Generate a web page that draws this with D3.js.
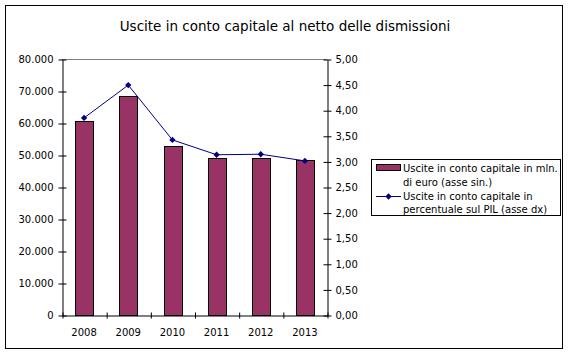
<!DOCTYPE html>
<html><head><meta charset="utf-8">
<script src="https://cdn.jsdelivr.net/npm/d3@7"></script>
<style>html,body{margin:0;padding:0;background:#fff}svg{display:block}text{font-family:"DejaVu Sans",Verdana,sans-serif}</style>
</head><body>
<svg id="c" width="570" height="355"></svg>
<script>
const years = ["2008","2009","2010","2011","2012","2013"];
const milioni = [60700, 68400, 52800, 49100, 49200, 48400];
const percentuale = [3.85, 4.49, 3.42, 3.13, 3.14, 3.01];
const leftTicks = [0,10000,20000,30000,40000,50000,60000,70000,80000];
const rightTicks = [0,0.5,1,1.5,2,2.5,3,3.5,4,4.5,5];
const title = "Uscite in conto capitale al netto delle dismissioni";
const legendBar = ["Uscite in conto capitale in mln.","di euro (asse sin.)"];
const legendLine = ["Uscite in conto capitale in","percentuale sul PIL (asse dx)"];

const loc = d3.formatLocale({decimal:",", thousands:".", grouping:[3], currency:["",""]});
const fL = loc.format(",d"), fR = loc.format(",.2f");
const svg = d3.select("#c");
svg.append("rect").attr("width",570).attr("height",355).attr("fill","#fff");
svg.append("rect").attr("x",5.5).attr("y",5.5).attr("width",557).attr("height",343)
  .attr("fill","none").attr("stroke","#000").attr("stroke-width",1);

svg.append("text").attr("x",285).attr("y",31).attr("text-anchor","middle")
  .attr("font-size",13.5).text(title);

const L=62, R=327, T=59, B=315;
const x = d3.scaleBand().domain(years).range([L,R]).paddingInner(0.6).paddingOuter(0.3);
const yL = d3.scaleLinear().domain([0,80000]).range([B,T]);
const yR = d3.scaleLinear().domain([0,5]).range([B,T]);

svg.append("line").attr("x1",L).attr("x2",R).attr("y1",T+0.5).attr("y2",T+0.5).attr("stroke","#808080");

svg.selectAll("rect.bar").data(years).enter().append("rect").attr("class","bar")
  .attr("x",d=>Math.round(x(d))+0.5).attr("width",Math.round(x.bandwidth()))
  .attr("y",(d,i)=>Math.round(yL(milioni[i]))+0.5).attr("height",(d,i)=>B-Math.round(yL(milioni[i])))
  .attr("fill","#993366").attr("stroke","#000").attr("stroke-width",1);

// axes
const axL = svg.append("g").attr("transform",`translate(${L+0.5},0.5)`)
  .call(d3.axisLeft(yL).tickValues(leftTicks).tickFormat(fL).tickSizeInner(4).tickSizeOuter(0).tickPadding(5));
axL.selectAll(".tick line").attr("x1",4);
const axR = svg.append("g").attr("transform",`translate(${R+0.5},0.5)`)
  .call(d3.axisRight(yR).tickValues(rightTicks).tickFormat(fR).tickSizeInner(4).tickSizeOuter(0).tickPadding(4));
axR.selectAll(".tick line").attr("x1",-4);
const xb = d3.scaleLinear().domain([0,6]).range([L,R]);
const axB = svg.append("g").attr("transform",`translate(0.5,${B+0.5})`)
  .call(d3.axisBottom(xb).ticks(6).tickFormat("").tickSizeInner(3).tickSizeOuter(0));
axB.selectAll(".tick line").attr("y1",-3);
svg.append("g").selectAll("text").data(years).enter().append("text")
  .attr("x",d=>x(d)+x.bandwidth()/2).attr("y",336).attr("text-anchor","middle")
  .attr("font-size",10).text(d=>d);
[axL,axR,axB].forEach(a=>{a.selectAll("path,line").attr("stroke","#000");a.selectAll("text").attr("font-size",10).attr("font-family","DejaVu Sans").attr("fill","#000");});

// line
const line = d3.line().x((d,i)=>x(years[i])+x.bandwidth()/2).y(d=>yR(d));
svg.append("path").datum(percentuale).attr("d",line).attr("fill","none").attr("stroke","#000080").attr("stroke-width",1);
const sym = d3.symbol().type(d3.symbolSquare).size(20);
svg.selectAll("path.pt").data(percentuale).enter().append("path").attr("class","pt")
  .attr("d",sym).attr("fill","#000080")
  .attr("transform",(d,i)=>`translate(${x(years[i])+x.bandwidth()/2},${yR(d)}) rotate(45)`);

// legend
const lg = svg.append("g");
lg.append("rect").attr("x",371.5).attr("y",159.5).attr("width",189).attr("height",56).attr("fill","#fff").attr("stroke","#000");
lg.append("rect").attr("x",376.5).attr("y",164.5).attr("width",24).attr("height",6).attr("fill","#993366").attr("stroke","#000");
lg.append("line").attr("x1",376).attr("x2",401).attr("y1",196.5).attr("y2",196.5).attr("stroke","#000080");
lg.append("path").attr("d",sym).attr("fill","#000080").attr("transform","translate(388.5,196.5) rotate(45)");
legendBar.concat(legendLine).forEach((t,i)=>{
  lg.append("text").attr("x",403).attr("y",[172,185.5,199.5,212.5][i]).attr("font-size",10).text(t);
});
</script>
</body></html>
